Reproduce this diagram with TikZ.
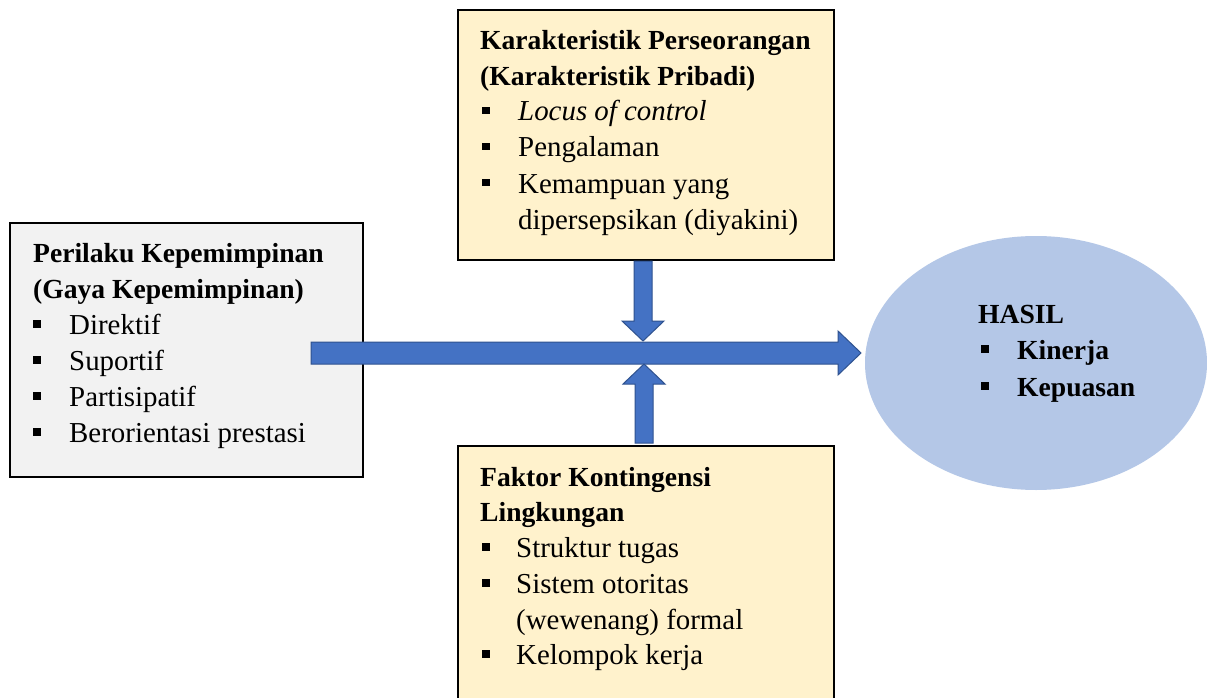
\documentclass[tikz,border=0pt]{standalone}
\usepackage{fontspec}
\setmainfont{Liberation Serif}
\usetikzlibrary{shapes.geometric}
\definecolor{arrfill}{HTML}{4472C4}
\definecolor{arrline}{HTML}{2F528F}
\definecolor{ellfill}{HTML}{B4C7E7}
\definecolor{cream}{HTML}{FFF2CC}
\definecolor{lgray}{HTML}{F2F2F2}
\newcommand{\bulitem}[1]{\makebox[#1][l]{\raisebox{6.5pt}{\rule{7.5pt}{7.5pt}}}}
\tikzset{
  txt/.style={anchor=base west, inner sep=0pt, font=\fontsize{28.9}{36}\selectfont},
  btxt/.style={anchor=base west, inner sep=0pt, font=\fontsize{27.6}{36}\selectfont\bfseries},
  boxframe/.style={draw=black, line width=1.6pt},
  blockarrow/.style={fill=arrfill, draw=arrline, line width=1pt, line join=miter}
}
\begin{document}
\begin{tikzpicture}[x=1pt,y=-1pt]
\clip (0,0) rectangle (1207,698);
\fill[white] (0,0) rectangle (1207,698);
% ellipse
\node[ellipse, fill=ellfill, minimum width=342pt, minimum height=254pt, inner sep=0pt] (hasil) at (1036,363) {};
% boxes
\draw[boxframe, fill=lgray] (10,223) rectangle (363,477);
\draw[boxframe, fill=cream] (458,10) rectangle (834,260);
\draw[boxframe, fill=cream] (458,446) rectangle (834,712);
% arrows
\draw[blockarrow] (311,342) -- (838,342) -- (838,331) -- (861,353) -- (838,375) -- (838,364) -- (311,364) -- cycle;
\draw[blockarrow] (634,261) -- (652,261) -- (652,321) -- (664,321) -- (643,341) -- (622,321) -- (634,321) -- cycle;
\draw[blockarrow] (635,443) -- (653,443) -- (653,384) -- (665,384) -- (644,364) -- (623,384) -- (635,384) -- cycle;
% left box text
\node[btxt] (l1) at (33,262) {Perilaku Kepemimpinan};
\node[btxt] (l2) at (33,298) {(Gaya Kepemimpinan)};
\node[txt] (l3) at (33,334) {\bulitem{36pt}Direktif};
\node[txt] (l4) at (33,370) {\bulitem{36pt}Suportif};
\node[txt] (l5) at (33,406) {\bulitem{36pt}Partisipatif};
\node[txt] (l6) at (33,442) {\bulitem{36pt}Berorientasi prestasi};
% top box text
\node[btxt] (t1) at (480,50) {Karakteristik Perseorangan};
\node[btxt] (t2) at (480,86) {(Karakteristik Pribadi)};
\node[txt] (t3) at (482,121) {\bulitem{36pt}\itshape Locus of control};
\node[txt] (t4) at (482,157) {\bulitem{36pt}Pengalaman};
\node[txt] (t5) at (482,193) {\bulitem{36pt}Kemampuan yang};
\node[txt] (t6) at (518,229) {dipersepsikan (diyakini)};
% bottom box text
\node[btxt] (b1) at (480,486) {Faktor Kontingensi};
\node[btxt] (b2) at (480,521) {Lingkungan};
\node[txt] (b3) at (482,557) {\bulitem{34pt}Struktur tugas};
\node[txt] (b4) at (482,593) {\bulitem{34pt}Sistem otoritas};
\node[txt] (b5) at (516,629) {(wewenang) formal};
\node[txt] (b6) at (482,664) {\bulitem{34pt}Kelompok kerja};
% ellipse text
\node[btxt] (h1) at (978,323) {HASIL};
\node[btxt] (h2) at (981,359) {\bulitem{36pt}Kinerja};
\node[btxt] (h3) at (981,396) {\bulitem{36pt}Kepuasan};
\end{tikzpicture}
\end{document}
